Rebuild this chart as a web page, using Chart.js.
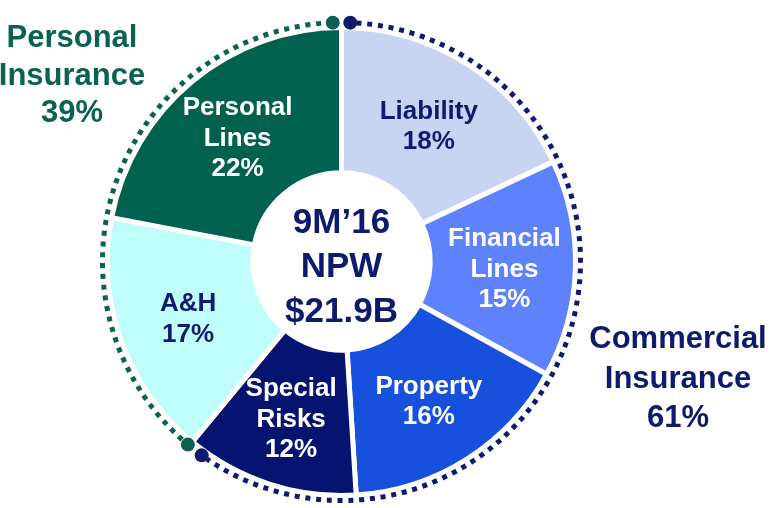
<!DOCTYPE html>
<html>
<head>
<meta charset="utf-8">
<script src="https://cdn.jsdelivr.net/npm/chart.js@4"></script>
<style>
  html, body { margin:0; padding:0; background:#fff; }
  #wrap { width:773px; height:508px; }
</style>
</head>
<body>
<div id="wrap"><canvas id="chartNpw" width="773" height="508"></canvas></div>
<script>
// segments, clockwise from 12 o'clock
const categories = [['Liability'], ['Financial', 'Lines'], ['Property'], ['Special', 'Risks'], ['A&H'], ['Personal', 'Lines']];
const shares = [18, 15, 16, 12, 17, 22];
const commercialIdx = [0, 1, 2, 3];
const personalIdx = [4, 5];
const centerLines = ['9M\u201916', 'NPW', '$21.9B'];

const NAVY = '#0d1a6e', GREEN = '#0b6153';
const sliceColors = ['#c7d5f3', '#5e82fc', '#1650dd', '#051470', '#befdf9', '#00614f'];
const inkColors = [NAVY, '#fff', '#fff', '#fff', NAVY, '#fff'];
const FONT = 'Liberation Sans, Arial, sans-serif';

const sum = idx => idx.reduce((a, i) => a + shares[i], 0);

const decor = {
  id: 'decor',
  afterDatasetsDraw(chart){
    const ctx = chart.ctx;
    const arcs = chart.getDatasetMeta(0).data;
    const cx = arcs[0].x, cy = arcs[0].y;
    const deg = Math.PI / 180;

    // slice labels
    ctx.save();
    ctx.textAlign = 'center';
    ctx.textBaseline = 'alphabetic';
    ctx.font = 'bold 26px ' + FONT;
    arcs.forEach((a, i) => {
      const mid = (a.startAngle + a.endAngle) / 2;
      const r = 163;
      const x = cx + Math.cos(mid) * r, y = cy + Math.sin(mid) * r;
      const lines = categories[i].concat([shares[i] + '%']);
      const lh = 30.5;
      const top = y - (lines.length - 1) * lh / 2 + 10;
      ctx.fillStyle = inkColors[i];
      lines.forEach((t, k) => ctx.fillText(t, x, top + k * lh));
    });

    // center text
    ctx.fillStyle = NAVY;
    ctx.font = 'bold 35px ' + FONT;
    centerLines.forEach((t, k) => ctx.fillText(t, cx, cy - 29 + k * 44.5));

    // dotted group rings
    const ringR = 239;
    const ring = (a0, a1, color) => {
      ctx.strokeStyle = color;
      ctx.lineWidth = 5;
      ctx.setLineDash([5, 5.8]);
      ctx.beginPath();
      ctx.arc(cx, cy, ringR, a0, a1);
      ctx.stroke();
      ctx.setLineDash([]);
    };
    const dot = (a, color) => {
      ctx.fillStyle = color;
      ctx.beginPath();
      ctx.arc(cx + Math.cos(a) * ringR, cy + Math.sin(a) * ringR, 7, 0, Math.PI * 2);
      ctx.fill();
    };
    const cS = arcs[commercialIdx[0]].startAngle, cE = arcs[commercialIdx[commercialIdx.length - 1]].endAngle;
    const pS = arcs[personalIdx[0]].startAngle, pE = arcs[personalIdx[personalIdx.length - 1]].endAngle;
    ring(cS + 3.6 * deg, cE - 5.4 * deg, NAVY);
    ring(pS + 2.2 * deg, pE - 3.6 * deg, GREEN);
    dot(cS + 2.1 * deg, NAVY);
    dot(cE - 3.8 * deg, NAVY);
    dot(pS + 0.4 * deg, GREEN);
    dot(pE - 2.1 * deg, GREEN);

    // group labels
    ctx.font = 'bold 31px ' + FONT;
    ctx.fillStyle = GREEN;
    ['Personal', 'Insurance', sum(personalIdx) + '%'].forEach((t, k) => ctx.fillText(t, 72, 47 + k * 37.5));
    ctx.fillStyle = NAVY;
    ['Commercial', 'Insurance', sum(commercialIdx) + '%'].forEach((t, k) => ctx.fillText(t, 678, 348 + k * 39.5));
    ctx.restore();
  }
};

new Chart(document.getElementById('chartNpw'), {
  type: 'doughnut',
  data: {
    labels: categories.map(c => c.join(' ')),
    datasets: [{
      data: shares,
      backgroundColor: sliceColors,
      borderColor: '#fff',
      borderWidth: 5,
      radius: 234,
      cutout: 92.5
    }]
  },
  options: {
    responsive: false,
    animation: false,
    layout: { padding: { left: 0, right: 90, top: 15, bottom: 0 } },
    plugins: { legend: { display: false }, tooltip: { enabled: false } }
  },
  plugins: [decor]
});
</script>
</body>
</html>
